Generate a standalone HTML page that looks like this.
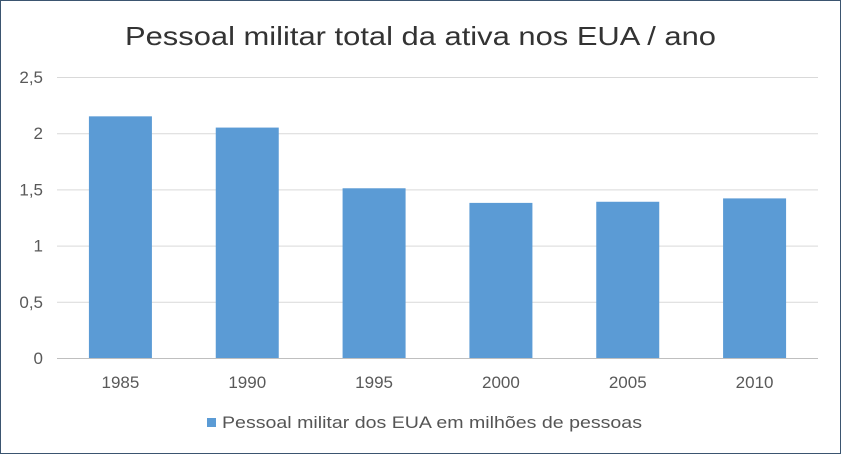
<!DOCTYPE html>
<html><head><meta charset="utf-8"><style>
html,body{margin:0;padding:0;background:#fff;}
svg{display:block;font-family:"Liberation Sans",sans-serif;}
</style></head><body>
<svg id="chart" width="841" height="454">
<rect x="0.5" y="0.5" width="840" height="453" fill="#fff" stroke="#3b5570" stroke-width="1"/>
<text x="125" y="45" textLength="591" lengthAdjust="spacingAndGlyphs" font-size="26" fill="#333">Pessoal militar total da ativa nos EUA / ano</text>
<g id="grid"></g><g id="bars"></g><g id="xl"></g><g id="yl"></g>
<rect x="207" y="418" width="9" height="9" fill="#5b9bd5"/>
<text x="222" y="428" textLength="420" lengthAdjust="spacingAndGlyphs" font-size="17" fill="#555">Pessoal militar dos EUA em milhões de pessoas</text>
</svg>
<script>
const categories=["1985","1990","1995","2000","2005","2010"];
const values=[2.15,2.05,1.51,1.38,1.39,1.42];
const yTicks=[0,0.5,1,1.5,2,2.5];
const yTickLabels=["0","0,5","1","1,5","2","2,5"];
const NS="http://www.w3.org/2000/svg";
const x0=57,x1=818,yBase=358,yTop=77,yMax=2.5;
const y=v=>yBase-(v/yMax)*(yBase-yTop);
const band=(x1-x0)/categories.length;
const xc=i=>x0+band*(i+0.5);
function mk(t,a,p){const e=document.createElementNS(NS,t);for(const k in a)e.setAttribute(k,a[k]);p.appendChild(e);return e;}
const g=document.getElementById('grid'),b=document.getElementById('bars'),xl=document.getElementById('xl'),yl=document.getElementById('yl');
yTicks.forEach((t,i)=>{
 const l=mk('line',{x1:x0,x2:x1,y1:y(t)+0.5,y2:y(t)+0.5,stroke:t===0?'#bfbfbf':'#d9d9d9','stroke-width':1},g);
 
 
 const tx=mk('text',{x:43,y:y(t)+6,'text-anchor':'end','font-size':17,fill:'#595959'},yl);
 tx.textContent=yTickLabels[i];
 
 
});
categories.forEach((c,i)=>{
 const r=mk('rect',{x:xc(i)-31.5,y:y(values[i]),width:63,height:yBase-y(values[i]),fill:'#5b9bd5'},b);
 
 
 const tx=mk('text',{x:xc(i),y:388,'text-anchor':'middle','font-size':17,fill:'#595959'},xl);
 tx.textContent=c;
 
 
});
</script>
</body></html>
